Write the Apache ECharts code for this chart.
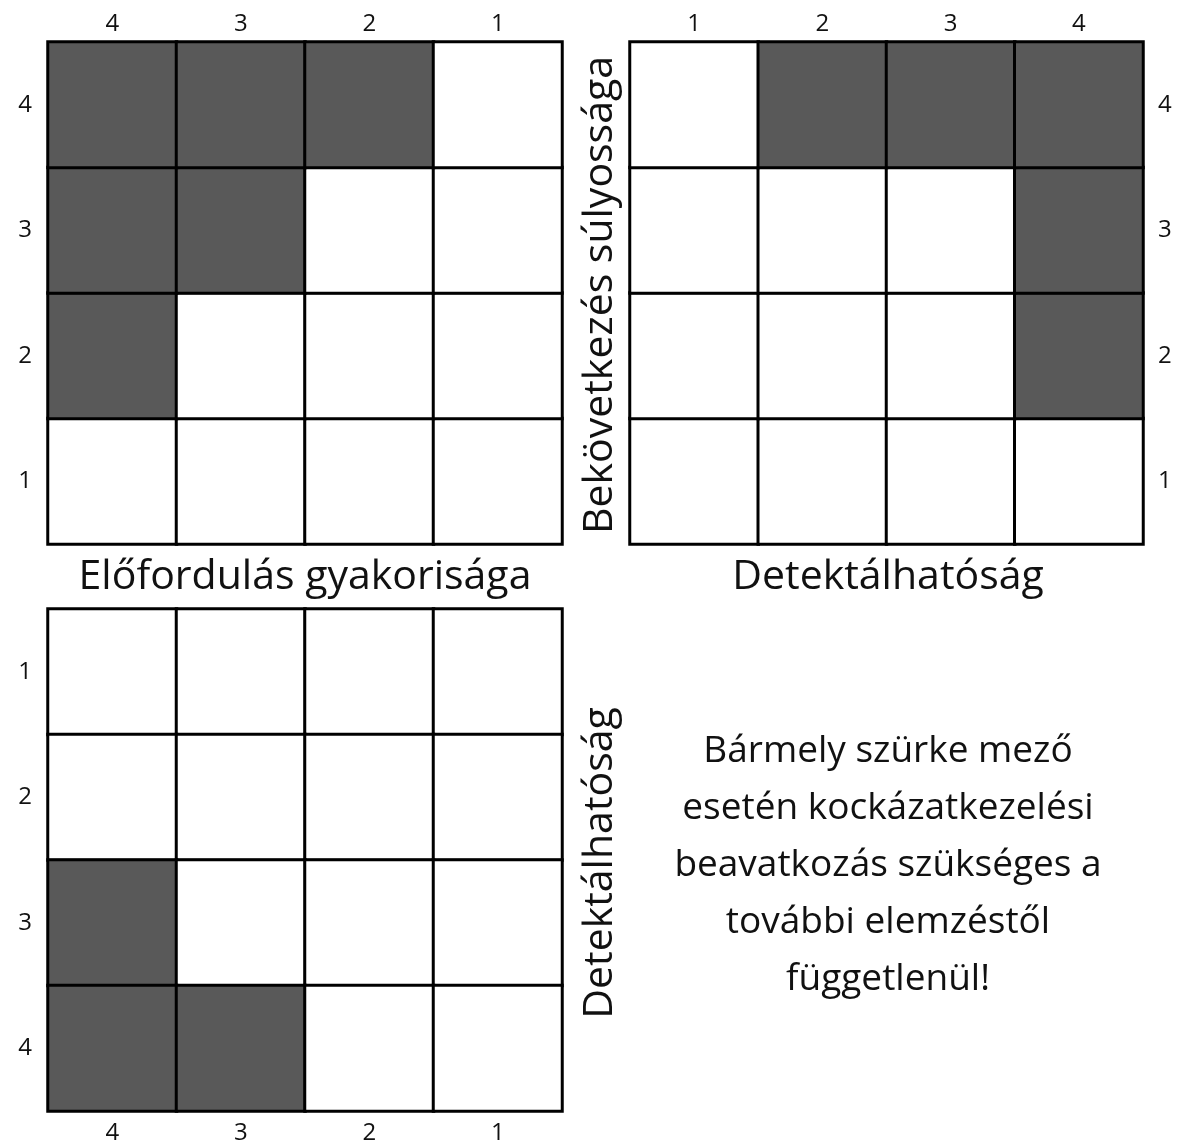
<!DOCTYPE html>
<html>
<head>
<meta charset="utf-8">
<script src="https://cdn.jsdelivr.net/npm/echarts@6/dist/echarts.min.js"></script>
<style>
  html, body { margin: 0; padding: 0; background: #fff; }
  #chart { width: 1178px; height: 1147px; }
</style>
</head>
<body>
<div id="chart"></div>
<script>
// tick labels for each matrix
var occurrenceDesc = ['4', '3', '2', '1'];
var detectAsc = ['1', '2', '3', '4'];
var severityAsc = ['1', '2', '3', '4'];

// 1 = grey (intervention needed), 0 = white; rows listed from the bottom row up
// top-left: severity (rows 1..4) x occurrence (4,3,2,1)
var sevOccRows = [
  [0, 0, 0, 0],
  [1, 0, 0, 0],
  [1, 1, 0, 0],
  [1, 1, 1, 0]
];
// top-right: severity (rows 1..4) x detectability (1..4)
var sevDetRows = [
  [0, 0, 0, 0],
  [0, 0, 0, 1],
  [0, 0, 0, 1],
  [0, 1, 1, 1]
];
// bottom-left: detectability (rows 1..4, top to bottom) x occurrence (4,3,2,1)
var detOccRows = [
  [0, 0, 0, 0],
  [0, 0, 0, 0],
  [1, 0, 0, 0],
  [1, 1, 0, 0]
];

var toCells = function (rows) {
  var out = [];
  rows.forEach(function (row, y) {
    row.forEach(function (v, x) { out.push([x, y, v]); });
  });
  return out;
};

var font = '"Open Sans", Lato, sans-serif';
var labelStyle = { color: '#111', fontSize: 24, fontFamily: font };

var makeAxis = function (data, extra) {
  return Object.assign({
    type: 'category',
    data: data,
    axisLine: { show: false },
    axisTick: { show: false },
    splitLine: { show: false },
    axisLabel: Object.assign({}, labelStyle)
  }, extra);
};

var cellSeries = function (idx, rows) {
  return {
    type: 'heatmap',
    xAxisIndex: idx,
    yAxisIndex: idx,
    data: toCells(rows),
    itemStyle: { borderColor: '#000', borderWidth: 3 },
    emphasis: { disabled: true }
  };
};

var chart = echarts.init(document.getElementById('chart'));
chart.setOption({
  backgroundColor: '#fff',
  animation: false,
  grid: [
    { left: 48, top: 42, width: 514, height: 502 },
    { left: 630, top: 42, width: 513, height: 502 },
    { left: 48, top: 609, width: 514, height: 502 }
  ],
  xAxis: [
    makeAxis(occurrenceDesc, { gridIndex: 0, position: 'top', axisLabel: Object.assign({ margin: 6 }, labelStyle) }),
    makeAxis(detectAsc, { gridIndex: 1, position: 'top', axisLabel: Object.assign({ margin: 6 }, labelStyle) }),
    makeAxis(occurrenceDesc, { gridIndex: 2, position: 'bottom', axisLabel: Object.assign({ margin: 10 }, labelStyle) })
  ],
  yAxis: [
    makeAxis(severityAsc, { gridIndex: 0, position: 'left', axisLabel: Object.assign({ margin: 16 }, labelStyle) }),
    makeAxis(severityAsc, { gridIndex: 1, position: 'right', axisLabel: Object.assign({ margin: 15 }, labelStyle) }),
    makeAxis(detectAsc, { gridIndex: 2, position: 'left', inverse: true, axisLabel: Object.assign({ margin: 16 }, labelStyle) })
  ],
  visualMap: {
    type: 'piecewise',
    show: false,
    dimension: 2,
    seriesIndex: [0, 1, 2],
    pieces: [
      { value: 0, color: '#ffffff' },
      { value: 1, color: '#595959' }
    ]
  },
  series: [
    cellSeries(0, sevOccRows),
    cellSeries(1, sevDetRows),
    cellSeries(2, detOccRows)
  ],
  graphic: [
    {
      type: 'text', x: 305, y: 577,
      style: { text: 'Előfordulás gyakorisága', fill: '#111', font: '41px ' + font, textAlign: 'center', textVerticalAlign: 'middle' }
    },
    {
      type: 'text', x: 888, y: 577,
      style: { text: 'Detektálhatóság', fill: '#111', font: '41px ' + font, textAlign: 'center', textVerticalAlign: 'middle' }
    },
    {
      type: 'text', x: 600, y: 295, rotation: Math.PI / 2,
      style: { text: 'Bekövetkezés súlyossága', fill: '#111', font: '41px ' + font, textAlign: 'center', textVerticalAlign: 'middle' }
    },
    {
      type: 'text', x: 600, y: 863, rotation: Math.PI / 2,
      style: { text: 'Detektálhatóság', fill: '#111', font: '41px ' + font, textAlign: 'center', textVerticalAlign: 'middle' }
    },
    {
      type: 'text', x: 888, y: 865,
      style: {
        text: 'Bármely szürke mező\nesetén kockázatkezelési\nbeavatkozás szükséges a\ntovábbi elemzéstől\nfüggetlenül!',
        fill: '#111', font: '37px ' + font, lineHeight: 57,
        textAlign: 'center', textVerticalAlign: 'middle'
      }
    }
  ]
});
</script>
</body>
</html>
